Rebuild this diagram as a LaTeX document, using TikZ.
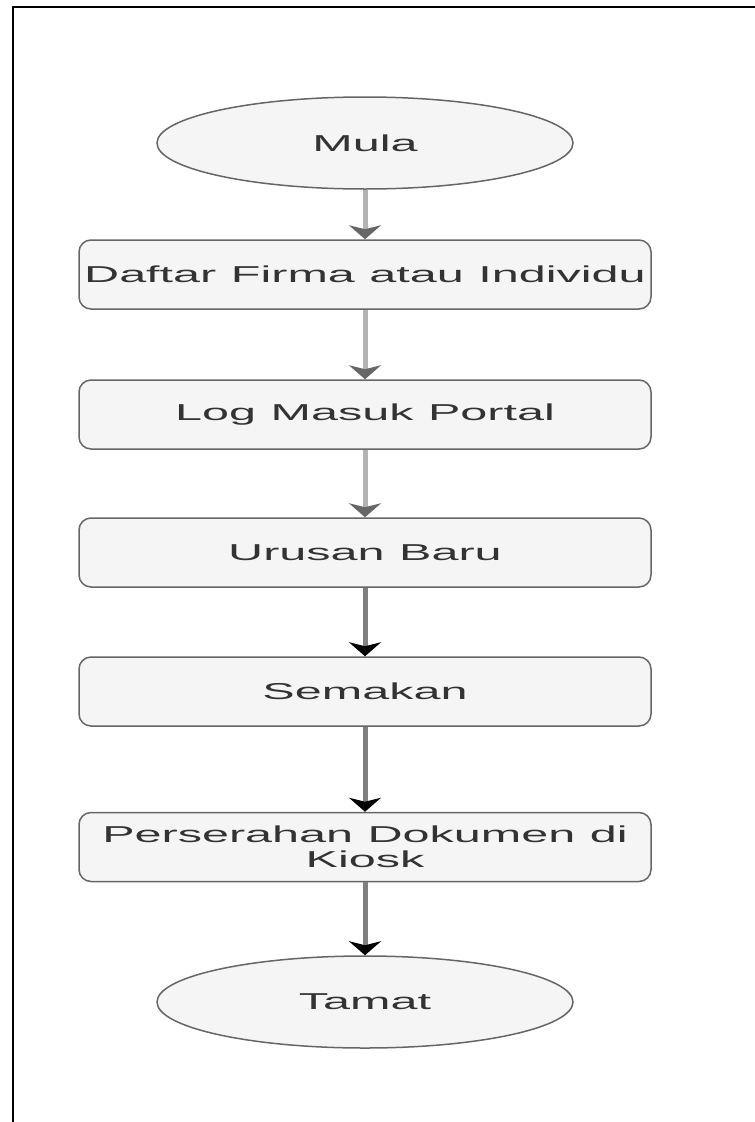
\documentclass[tikz,border=0pt]{standalone}
\usepackage{fontspec}
\setmainfont[FakeStretch=2.11, WordSpace=1.08]{Liberation Sans}
\usetikzlibrary{shapes,arrows.meta}
\definecolor{boxfill}{HTML}{F5F5F5}
\definecolor{boxline}{HTML}{666666}
\definecolor{boxtext}{HTML}{333333}
\definecolor{lightline}{HTML}{B3B3B3}
\definecolor{darkline}{HTML}{808080}
\tikzstyle{line} = [draw, lightline, line width=5pt, -{Stealth[length=14pt,width=32pt,inset=4pt,color=boxline]}]
\tikzstyle{heavyline} = [draw, darkline, line width=5pt, -{Stealth[length=14pt,width=32pt,inset=4pt,color=black]}]
\tikzstyle{block} = [draw=boxline, fill=boxfill, line width=1.5pt, rectangle, rounded corners=12pt, align=center, minimum width=572pt, minimum height=69pt, inner sep=0pt, text=boxtext]
\tikzstyle{cloud} = [draw=boxline, fill=boxfill, line width=1.5pt, ellipse, minimum width=416pt, minimum height=92pt, inner sep=0pt, text=boxtext]

\begin{document}
\begin{tikzpicture}[x=1pt, y=1pt, node distance=139pt, font=\fontsize{23}{25}\selectfont]
        \useasboundingbox (0,0) rectangle (755,-1122);
        \draw[line width=2pt] (13,-1122) -- (13,-6.5) -- (755,-6.5);
        \node[cloud] at (365,-143) (mula) {Mula};
        \node[block, below of=mula, node distance=131.5pt] (daftar) {Daftar Firma atau Individu};
        \node[block, below of=daftar, node distance=140pt] (login) {Log Masuk Portal};
        \node[block, below of=login, node distance=138pt] (urusan) {Urusan Baru};
        \node[block, below of=urusan] (semakan) {Semakan};
        \node[block, below of=semakan, node distance=155.5pt] (serah) {Perserahan Dokumen di\\Kiosk};
        \node[cloud, below of=serah, node distance=155pt] (tamat) {Tamat};
        \path[line] (mula) -- (daftar);
        \path[line] (daftar) -- (login);
        \path[line] (login) -- (urusan);
        \path[heavyline] (urusan) -- (semakan);
        \path[heavyline] (semakan) -- (serah);
        \path[heavyline] (serah) -- (tamat);
    \end{tikzpicture}
\end{document}
